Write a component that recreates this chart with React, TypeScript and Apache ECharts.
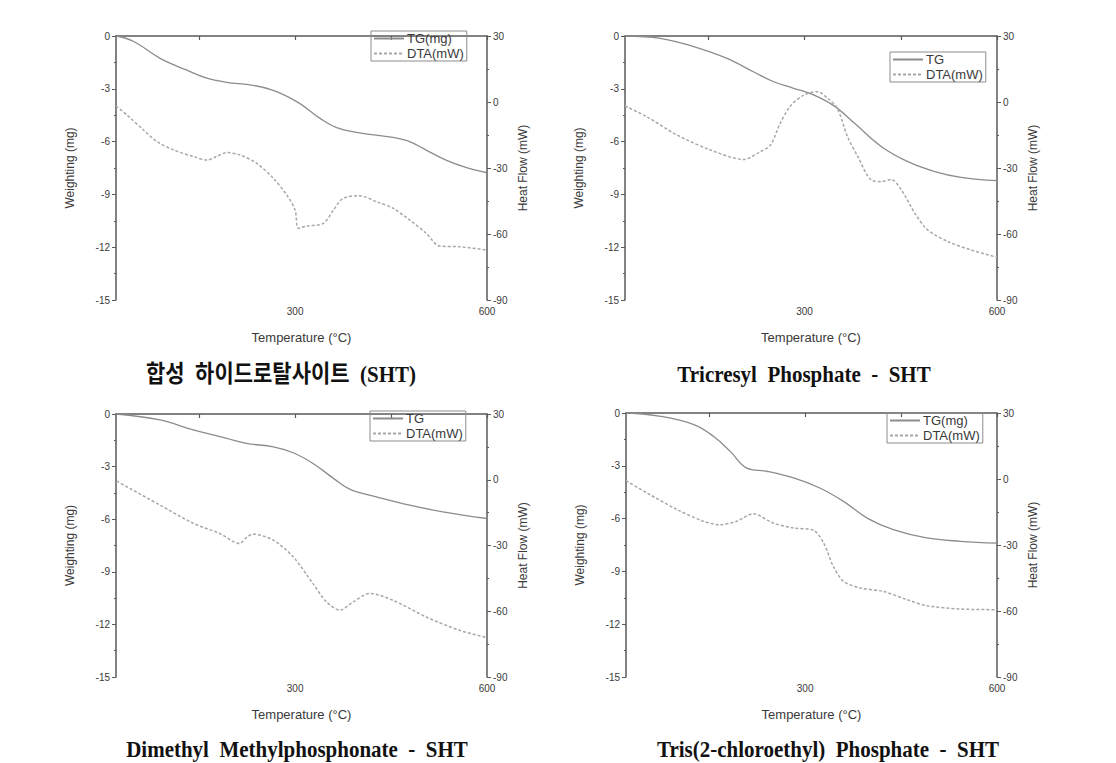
import React, { useEffect, useRef } from "react";
import * as echarts from "echarts";

// ---- data (temperature °C, weight mg, heat flow mW) ----
const TG1_T = [20, 47, 89, 130, 162, 193, 234, 271, 307, 339, 365, 401, 453, 479, 505, 536, 568, 600];
const TG1_V = [0, -0.3, -1.27, -1.93, -2.4, -2.63, -2.8, -3.16, -3.83, -4.68, -5.2, -5.5, -5.76, -6.0, -6.48, -7.05, -7.48, -7.77];
const DTA1_T = [20, 37, 63, 84, 110, 141, 162, 177, 193, 214, 240, 266, 287, 300, 305, 318, 344, 360, 375, 401, 427, 453, 479, 505, 526, 557, 600];
const DTA1_V = [-1.8, -5.9, -12.7, -18, -21.8, -24.8, -26.4, -24.8, -23, -24.1, -27.9, -34.7, -42.3, -49.1, -57.4, -56.4, -55.2, -49.1, -43.8, -42.6, -45.3, -48.3, -53.6, -59.7, -65.5, -65.8, -67.3];

const TG2_T = [20, 75, 127, 179, 220, 252, 283, 314, 347, 378, 420, 461, 503, 544, 600];
const TG2_V = [0, -0.13, -0.6, -1.27, -2.03, -2.6, -2.97, -3.35, -4.0, -4.96, -6.29, -7.14, -7.7, -8.03, -8.22];
const DTA2_T = [20, 54, 101, 153, 205, 231, 247, 262, 278, 299, 320, 336, 351, 367, 383, 404, 420, 435, 451, 472, 492, 524, 560, 600];
const DTA2_V = [-1.8, -6.7, -15, -21.8, -26.1, -22.6, -19.5, -9.7, -1.8, 3.2, 4.7, 1.7, -2.9, -15.8, -24.8, -35.5, -36.2, -35.2, -40, -50.6, -58.2, -63.5, -67.3, -70.6];

const TG3_T = [20, 89, 141, 193, 224, 266, 297, 328, 360, 386, 427, 479, 531, 600];
const TG3_V = [0, -0.34, -0.91, -1.39, -1.68, -1.87, -2.21, -2.82, -3.67, -4.3, -4.72, -5.2, -5.58, -5.96];
const DTA3_T = [21, 37, 89, 141, 182, 213, 224, 234, 266, 297, 328, 349, 370, 391, 417, 453, 505, 557, 600];
const DTA3_V = [-0.6, -3.2, -11.6, -19.9, -24.5, -29.1, -26.3, -24.8, -27.6, -35.2, -47.4, -55.7, -59.5, -55.7, -51.9, -55, -62.6, -68.7, -72];

const TG4_T = [20, 74, 126, 157, 183, 209, 240, 282, 323, 360, 397, 438, 490, 543, 600];
const TG4_V = [0, -0.19, -0.66, -1.33, -2.18, -3.13, -3.31, -3.69, -4.26, -5.02, -5.97, -6.63, -7.1, -7.29, -7.39];
const DTA4_T = [20, 53, 100, 141, 167, 193, 219, 250, 282, 313, 329, 344, 360, 386, 422, 459, 490, 543, 600];
const DTA4_V = [-0.76, -6.4, -13.9, -19.2, -20.8, -19.2, -15.8, -20, -22.3, -23.3, -29.1, -39.7, -46.5, -49.5, -51.1, -54.8, -57.6, -59.1, -59.4];

const TG_NAMES = ["TG(mg)", "TG", "TG", "TG(mg)"];
const DTA_NAME = "DTA(mW)";
const CAPTIONS = [
  "합성  하이드로탈사이트  (SHT)",
  "Tricresyl  Phosphate  -  SHT",
  "Dimethyl  Methylphosphonate  -  SHT",
  "Tris(2-chloroethyl)  Phosphate  -  SHT",
];
const X_LABELS = [300, 600];
const X_TICKS = [150, 300, 450, 600];

const PANELS = [
  { tgT: TG1_T, tgV: TG1_V, dT: DTA1_T, dV: DTA1_V },
  { tgT: TG2_T, tgV: TG2_V, dT: DTA2_T, dV: DTA2_V },
  { tgT: TG3_T, tgV: TG3_V, dT: DTA3_T, dV: DTA3_V },
  { tgT: TG4_T, tgV: TG4_V, dT: DTA4_T, dV: DTA4_V },
];

// layout
const GRIDS = [
  { left: 116, top: 36, width: 371, height: 264 },
  { left: 625, top: 36, width: 372, height: 264 },
  { left: 116, top: 414, width: 371, height: 263 },
  { left: 626, top: 413, width: 371, height: 264 },
];
const LEGENDS = [
  { left: 371, top: 31 },
  { left: 890, top: 52 },
  { left: 370, top: 411 },
  { left: 887, top: 413 },
];
const CAPTION_POS = [
  { x: 281, y: 374 },
  { x: 804, y: 374 },
  { x: 297, y: 749 },
  { x: 828, y: 749 },
];

const AXIS_COLOR = "#5a5a5a";
const TEXT_COLOR = "#3a3a3a";
const SANS = "'Liberation Sans', Arial, sans-serif";

export default function App() {
  const ref = useRef<HTMLDivElement>(null);
  useEffect(() => {
    if (!ref.current) return;
    const chart = echarts.init(ref.current, undefined, { renderer: "svg" });
    const xAxis: any[] = [];
    const yAxis: any[] = [];
    const series: any[] = [];
    const legend: any[] = [];
    const graphic: any[] = [];
    PANELS.forEach((p, i) => {
      xAxis.push({
        type: "value",
        gridIndex: i,
        min: 20,
        max: 600,
        name: "Temperature (°C)",
        nameLocation: "middle",
        nameGap: 31,
        nameTextStyle: { fontSize: 13, color: TEXT_COLOR, fontFamily: SANS },
        axisLine: { show: true, lineStyle: { color: AXIS_COLOR, width: 1.5 } },
        axisTick: { show: true, customValues: X_TICKS, length: 4, lineStyle: { color: AXIS_COLOR, width: 1.2 } },
        axisLabel: { customValues: X_LABELS, fontSize: 10, color: TEXT_COLOR, fontFamily: SANS, margin: 6 },
        splitLine: { show: false },
      });
      yAxis.push({
        type: "value",
        gridIndex: i,
        position: "left",
        min: -15,
        max: 0,
        interval: 3,
        name: "Weighting (mg)",
        nameLocation: "middle",
        nameGap: 40,
        nameTextStyle: { fontSize: 12, color: TEXT_COLOR, fontFamily: SANS },
        axisLine: { show: true, lineStyle: { color: AXIS_COLOR, width: 1.5 } },
        axisTick: { show: true, length: 4, lineStyle: { color: AXIS_COLOR } },
        minorTick: { show: true, splitNumber: 2, length: 2, lineStyle: { color: AXIS_COLOR } },
        axisLabel: { fontSize: 10, color: TEXT_COLOR, fontFamily: SANS, margin: 6 },
        splitLine: { show: false },
      });
      yAxis.push({
        type: "value",
        gridIndex: i,
        position: "right",
        min: -90,
        max: 30,
        interval: 30,
        name: "Heat Flow (mW)",
        nameLocation: "middle",
        nameGap: 30,
        nameTextStyle: { fontSize: 12, color: TEXT_COLOR, fontFamily: SANS },
        axisLine: { show: true, lineStyle: { color: AXIS_COLOR, width: 1.5 } },
        axisTick: { show: true, length: 4, lineStyle: { color: AXIS_COLOR } },
        minorTick: { show: true, splitNumber: 2, length: 2, lineStyle: { color: AXIS_COLOR } },
        axisLabel: { fontSize: 10, color: TEXT_COLOR, fontFamily: SANS, margin: 6 },
        splitLine: { show: false },
      });
      series.push({
        type: "line",
        name: TG_NAMES[i],
        xAxisIndex: i,
        yAxisIndex: i * 2,
        data: p.tgT.map((t, k) => [t, p.tgV[k]]),
        smooth: 0.4,
        symbol: "none",
        lineStyle: { color: "#8c8c8c", width: 1.3, type: "solid" },
        itemStyle: { color: "#8c8c8c" },
      });
      series.push({
        type: "line",
        name: DTA_NAME,
        xAxisIndex: i,
        yAxisIndex: i * 2 + 1,
        data: p.dT.map((t, k) => [t, p.dV[k]]),
        smooth: 0.3,
        symbol: "none",
        lineStyle: { color: "#a8a8a8", width: 1.5, type: [3, 2] },
        itemStyle: { color: "#a8a8a8" },
      });
      legend.push({
        left: LEGENDS[i].left,
        top: LEGENDS[i].top,
        orient: "vertical",
        data: [TG_NAMES[i], DTA_NAME],
        itemWidth: 30,
        itemHeight: 10,
        itemGap: 2,
        padding: [1, 3, 1, 2],
        borderColor: "#8c8c8c",
        borderWidth: 1,
        selectedMode: false,
        itemStyle: { opacity: 0 },
        textStyle: { fontSize: 13, color: TEXT_COLOR, fontFamily: SANS, padding: [0, 0, 0, -2] },
      });
      graphic.push({
        type: "text",
        x: CAPTION_POS[i].x,
        y: CAPTION_POS[i].y,
        scaleY: 1.12,
        style: {
          text: CAPTIONS[i],
          align: "center",
          verticalAlign: "middle",
          fontSize: 21,
          fontWeight: "bold",
          fontFamily: "'Liberation Serif', 'Noto Sans CJK KR', serif",
          fill: "#111",
        },
      });
    });
    chart.setOption({
      animation: false,
      backgroundColor: "#ffffff",
      grid: GRIDS.map((g) => ({ ...g, containLabel: false })),
      xAxis,
      yAxis,
      series,
      legend,
      graphic,
    });
    return () => chart.dispose();
  }, []);
  return (
    <div
      ref={ref}
      style={{ position: "fixed", left: 0, top: 0, width: 1116, height: 763, background: "#fff" }}
    />
  );
}
